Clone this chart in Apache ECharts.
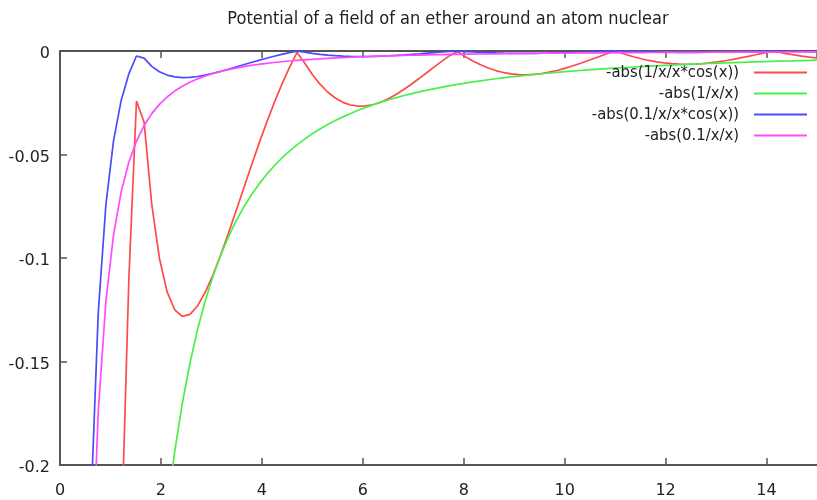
<!DOCTYPE html>
<html>
<head>
<meta charset="utf-8">
<script src="https://cdn.jsdelivr.net/npm/echarts@6/dist/echarts.min.js"></script>
<style>
html,body{margin:0;padding:0;background:#fff;}
#chart{width:817px;height:500px;}
</style>
</head>
<body>
<div id="chart"></div>
<script>
// sample positions (x)
var xs = [
  0.6061, 0.7576, 0.9091, 1.0606, 1.2121, 1.3636, 1.5152, 1.6667,
  1.8182, 1.9697, 2.1212, 2.2727, 2.4242, 2.5758, 2.7273, 2.8788,
  3.0303, 3.1818, 3.3333, 3.4848, 3.6364, 3.7879, 3.9394, 4.0909,
  4.2424, 4.3939, 4.5455, 4.6970, 4.8485, 5.0000, 5.1515, 5.3030,
  5.4545, 5.6061, 5.7576, 5.9091, 6.0606, 6.2121, 6.3636, 6.5152,
  6.6667, 6.8182, 6.9697, 7.1212, 7.2727, 7.4242, 7.5758, 7.7273,
  7.8788, 8.0303, 8.1818, 8.3333, 8.4848, 8.6364, 8.7879, 8.9394,
  9.0909, 9.2424, 9.3939, 9.5455, 9.6970, 9.8485, 10.0000, 10.1515,
  10.3030, 10.4545, 10.6061, 10.7576, 10.9091, 11.0606, 11.2121, 11.3636,
  11.5152, 11.6667, 11.8182, 11.9697, 12.1212, 12.2727, 12.4242, 12.5758,
  12.7273, 12.8788, 13.0303, 13.1818, 13.3333, 13.4848, 13.6364, 13.7879,
  13.9394, 14.0909, 14.2424, 14.3939, 14.5455, 14.6970, 14.8485, 15.0000
];
var redVals = [
  -2.2376, -1.2659, -0.7435, -0.43413, -0.23893, -0.11061, -0.02423, -0.03446,
  -0.07407, -0.10011, -0.11624, -0.12501, -0.12822, -0.12724, -0.12307, -0.11652,
  -0.10823, -0.09870, -0.08835, -0.07754, -0.06656, -0.05564, -0.04500, -0.03479,
  -0.02516, -0.01622, -0.00804, -0.00070, -0.00577, -0.01135, -0.01602, -0.01980,
  -0.02272, -0.02480, -0.02609, -0.02666, -0.02655, -0.02585, -0.02461, -0.02293,
  -0.02087, -0.01851, -0.01592, -0.01319, -0.01038, -0.00756, -0.00479, -0.00212,
  -0.00040, -0.00272, -0.00481, -0.00664, -0.00819, -0.00945, -0.01041, -0.01107,
  -0.01143, -0.01151, -0.01133, -0.01090, -0.01024, -0.00940, -0.00839, -0.00725,
  -0.00601, -0.00471, -0.00338, -0.00204, -0.00073, -0.00053, -0.00171, -0.00279,
  -0.00374, -0.00457, -0.00525, -0.00577, -0.00614, -0.00635, -0.00641, -0.00632,
  -0.00609, -0.00574, -0.00527, -0.00470, -0.00405, -0.00334, -0.00258, -0.00180,
  -0.00101, -0.00023, -0.00052, -0.00123, -0.00188, -0.00246, -0.00296, -0.00338
];
var greenVals = [
  -2.7225, -1.7424, -1.21, -0.88898, -0.68063, -0.53778, -0.4356, -0.36,
  -0.3025, -0.25775, -0.22224, -0.1936, -0.17016, -0.15073, -0.13444, -0.12066,
  -0.1089, -0.09878, -0.09, -0.08234, -0.07563, -0.0697, -0.06444, -0.05975,
  -0.05556, -0.0518, -0.0484, -0.04533, -0.04254, -0.04, -0.03768, -0.03556,
  -0.03361, -0.03182, -0.03017, -0.02864, -0.02723, -0.02591, -0.02469, -0.02356,
  -0.0225, -0.02151, -0.02059, -0.01972, -0.01891, -0.01814, -0.01742, -0.01675,
  -0.01611, -0.01551, -0.01494, -0.0144, -0.01389, -0.01341, -0.01295, -0.01251,
  -0.0121, -0.01171, -0.01133, -0.01098, -0.01063, -0.01031, -0.01, -0.0097,
  -0.00942, -0.00915, -0.00889, -0.00864, -0.0084, -0.00817, -0.00796, -0.00774,
  -0.00754, -0.00735, -0.00716, -0.00698, -0.00681, -0.00664, -0.00648, -0.00632,
  -0.00617, -0.00603, -0.00589, -0.00576, -0.00563, -0.0055, -0.00538, -0.00526,
  -0.00515, -0.00504, -0.00493, -0.00483, -0.00473, -0.00463, -0.00454, -0.00444
];
var blueVals = [
  -0.22376, -0.12659, -0.07435, -0.043413, -0.023893, -0.011061, -0.002423, -0.003446,
  -0.007407, -0.010011, -0.011624, -0.012501, -0.012822, -0.012724, -0.012307, -0.011652,
  -0.010823, -0.009870, -0.008835, -0.007754, -0.006656, -0.005564, -0.004500, -0.003479,
  -0.002516, -0.001622, -0.000804, -0.000070, -0.000577, -0.001135, -0.001602, -0.001980,
  -0.002272, -0.002480, -0.002609, -0.002666, -0.002655, -0.002585, -0.002461, -0.002293,
  -0.002087, -0.001851, -0.001592, -0.001319, -0.001038, -0.000756, -0.000479, -0.000212,
  -0.000040, -0.000272, -0.000481, -0.000664, -0.000819, -0.000945, -0.001041, -0.001107,
  -0.001143, -0.001151, -0.001133, -0.001090, -0.001024, -0.000940, -0.000839, -0.000725,
  -0.000601, -0.000471, -0.000338, -0.000204, -0.000073, -0.000053, -0.000171, -0.000279,
  -0.000374, -0.000457, -0.000525, -0.000577, -0.000614, -0.000635, -0.000641, -0.000632,
  -0.000609, -0.000574, -0.000527, -0.000470, -0.000405, -0.000334, -0.000258, -0.000180,
  -0.000101, -0.000023, -0.000052, -0.000123, -0.000188, -0.000246, -0.000296, -0.000338
];
var magentaVals = [
  -0.27225, -0.17424, -0.121, -0.088898, -0.068063, -0.053778, -0.04356, -0.036,
  -0.03025, -0.025775, -0.022224, -0.01936, -0.017016, -0.015073, -0.013444, -0.012066,
  -0.01089, -0.009878, -0.009, -0.008234, -0.007563, -0.00697, -0.006444, -0.005975,
  -0.005556, -0.00518, -0.00484, -0.004533, -0.004254, -0.004, -0.003768, -0.003556,
  -0.003361, -0.003182, -0.003017, -0.002864, -0.002723, -0.002591, -0.002469, -0.002356,
  -0.00225, -0.002151, -0.002059, -0.001972, -0.001891, -0.001814, -0.001742, -0.001675,
  -0.001611, -0.001551, -0.001494, -0.00144, -0.001389, -0.001341, -0.001295, -0.001251,
  -0.00121, -0.001171, -0.001133, -0.001098, -0.001063, -0.001031, -0.001, -0.00097,
  -0.000942, -0.000915, -0.000889, -0.000864, -0.00084, -0.000817, -0.000796, -0.000774,
  -0.000754, -0.000735, -0.000716, -0.000698, -0.000681, -0.000664, -0.000648, -0.000632,
  -0.000617, -0.000603, -0.000589, -0.000576, -0.000563, -0.00055, -0.000538, -0.000526,
  -0.000515, -0.000504, -0.000493, -0.000483, -0.000473, -0.000463, -0.000454, -0.000444
];
var seriesNames = ['-abs(1/x/x*cos(x))', '-abs(1/x/x)', '-abs(0.1/x/x*cos(x))', '-abs(0.1/x/x)'];
var seriesColors = ['#ff4a4a', '#4af04a', '#4a4aff', '#ff4aff'];
var seriesValues = [redVals, greenVals, blueVals, magentaVals];
var titleText = 'Potential of a field of an ether around an atom nuclear';

function pairs(vals) {
  var out = [];
  for (var k = 0; k < xs.length; k++) out.push([xs[k], vals[k]]);
  return out;
}

var chart = echarts.init(document.getElementById('chart'), null, {renderer: 'canvas'});
var axisColor = '#555';
var labelFont = 'DejaVu Sans';
var series = seriesNames.map(function (n, k) {
  return {
    name: n, type: 'line', data: pairs(seriesValues[k]),
    symbol: 'none', showSymbol: false, clip: true,
    lineStyle: {color: seriesColors[k], width: 1.7},
    itemStyle: {color: seriesColors[k]},
    emphasis: {disabled: true}
  };
});
chart.setOption({
  animation: false,
  backgroundColor: '#fff',
  title: {
    text: titleText, left: 443, top: 5, textAlign: 'center',
    textStyle: {fontFamily: 'DejaVu Sans Condensed', fontWeight: 'normal', fontSize: 18, color: '#222'}
  },
  grid: {left: 60, top: 51, width: 764, height: 414, containLabel: false},
  legend: {
    orient: 'vertical', right: 5, top: 59, align: 'right',
    icon: 'rect', itemWidth: 53, itemHeight: 2, itemGap: 4,
    selectedMode: false,
    textStyle: {fontFamily: 'DejaVu Sans Condensed', fontSize: 16.5, color: '#222', lineHeight: 17, padding: [0, 10, 0, 0]},
    data: seriesNames
  },
  xAxis: [{
    type: 'value', min: 0, max: 15, interval: 2, position: 'bottom',
    axisLine: {show: true, onZero: false, lineStyle: {color: axisColor, width: 2}},
    axisTick: {show: true, inside: true, length: 7, lineStyle: {color: axisColor, width: 1.5}},
    axisLabel: {show: true, margin: 18, fontFamily: labelFont, fontSize: 16, color: '#222', showMaxLabel: false},
    splitLine: {show: false}
  }, {
    type: 'value', min: 0, max: 15, interval: 2, position: 'top',
    axisLine: {show: true, onZero: false, lineStyle: {color: axisColor, width: 2}},
    axisTick: {show: true, inside: true, length: 7, lineStyle: {color: axisColor, width: 1.5}},
    axisLabel: {show: false},
    splitLine: {show: false}
  }],
  yAxis: {
    type: 'value', min: -0.2, max: 0, interval: 0.05,
    axisLine: {show: true, onZero: false, lineStyle: {color: axisColor, width: 2}},
    axisTick: {show: true, inside: true, length: 7, lineStyle: {color: axisColor, width: 1.5}},
    axisLabel: {
      show: true, margin: 10, color: '#222',
      formatter: function (v) { return '{t|' + v + '}'; },
      rich: {t: {fontFamily: labelFont, fontSize: 16, color: '#222', padding: [6, 0, 0, 0]}}
    },
    splitLine: {show: false}
  },
  series: series
});
</script>
</body>
</html>
